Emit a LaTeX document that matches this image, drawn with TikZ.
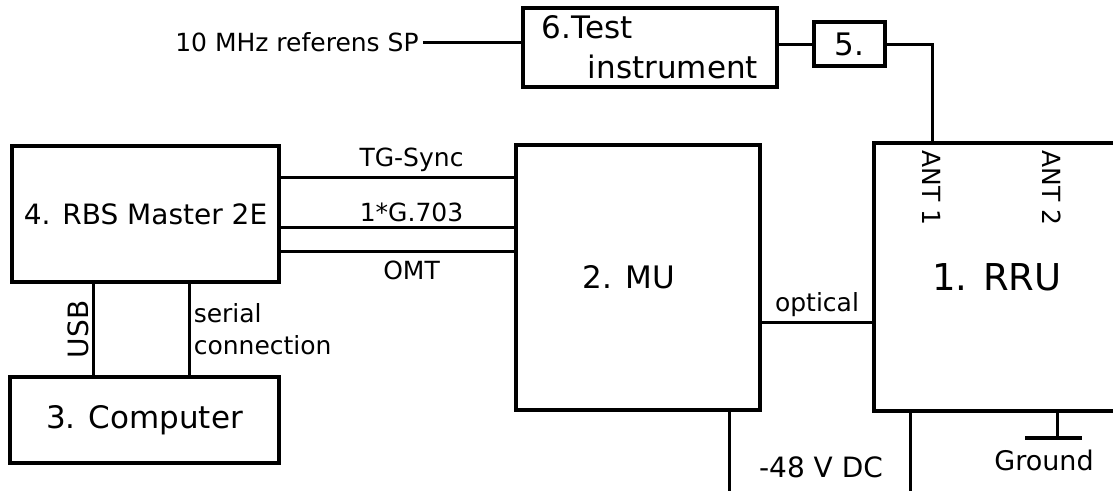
\documentclass[tikz,border=0pt]{standalone}
\usepackage{fontspec}
\setmainfont{DejaVu Sans}
\usetikzlibrary{positioning}
\begin{document}
\begin{tikzpicture}[
  x=1pt,y=-1pt,
  every node/.style={align=center},
  unit/.style={rectangle,draw=black,line width=3.5pt,inner sep=0pt,
               font=\fontsize{31}{40}\selectfont},
  lab/.style ={font=\fontsize{25}{32}\selectfont,inner sep=4pt},
  wire/.style={line width=3pt,black},
]
\useasboundingbox (0,0) rectangle (1113,491);

\node[unit,minimum width=267pt,minimum height=136pt,
      font=\fontsize{28}{34}\selectfont] at (145.5,214) (rbs) {4. RBS Master 2E};
\node[unit,minimum width=269pt,minimum height=86pt]  at (144.5,420) (pc)   {3. Computer};
\node[unit,minimum width=244pt,minimum height=265pt] at (638,277.5) (mu)   {2. MU\hspace*{18pt}};
\node[unit,minimum width=246pt,minimum height=268pt,
      font=\fontsize{37}{44}\selectfont] at (997,277) (rru) {1. RRU};
\node[unit,minimum width=254pt,minimum height=79pt,align=left]
      at (650,47.5) (test) {6.Test\\\hspace*{46pt}instrument};
\node[unit,minimum width=71pt,minimum height=44pt]   at (849.5,44)  (att)  {5.};

\node[lab] at (297,42) (ref) {10 MHz referens SP};
\node[lab,rotate=-90] at (932,188)  (ant1) {ANT 1};
\node[lab,rotate=-90] at (1052,188) (ant2) {ANT 2};
\node[lab,font=\fontsize{28}{34}\selectfont] at (821,467)  (dc)  {-48 V DC};
\node[lab,font=\fontsize{27}{34}\selectfont] at (1044,460) (gndlab) {Ground};

\coordinate (dca) at (729,491);
\coordinate (dcb) at (910,491);
\coordinate (gnd) at (1057,438);

\draw[wire] (ref.east) -- (ref.east -| test.west);
\draw[wire] (test.east |- att.west) -- (att.west);
\draw[wire] (att.east) -| (ant1 |- rru.north);

\draw[wire] ([yshift=37pt]rbs.east)
  -- node[lab,above,pos=0.56]{TG-Sync} ([yshift=37pt]rbs.east -| mu.west);
\draw[wire] ([yshift=-13pt]rbs.east)
  -- node[lab,above,pos=0.56]{1*G.703} ([yshift=-13pt]rbs.east -| mu.west);
\draw[wire] ([yshift=-37pt]rbs.east)
  -- node[lab,below=4pt,pos=0.56]{OMT} ([yshift=-37pt]rbs.east -| mu.west);

\draw[wire] ([xshift=83pt]rbs.south west)
  -- node[lab,rotate=90,above,font=\fontsize{28}{34}\selectfont,inner sep=3pt]{USB}
     ([xshift=83pt]rbs.south west |- pc.north);
\draw[wire] ([xshift=179pt]rbs.south west)
  -- node[lab,right,align=left,inner sep=3pt]{serial\\connection}
     ([xshift=179pt]rbs.south west |- pc.north);

\draw[wire] ([yshift=-45pt]mu.east)
  -- node[lab,above]{optical} ([yshift=-45pt]mu.east -| rru.west);

\draw[wire] (dca |- mu.south) -- (dca);
\draw[wire] (dcb |- rru.south) -- (dcb);

\draw[wire] (gnd |- rru.south) -- (gnd);
\draw[line width=4pt] ([xshift=-32pt]gnd) -- ([xshift=25pt]gnd);
\end{tikzpicture}
\end{document}
